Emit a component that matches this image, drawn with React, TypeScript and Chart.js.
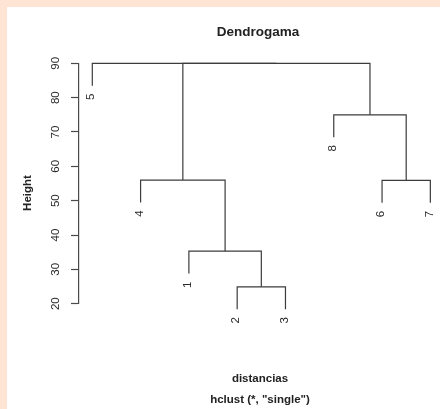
import React, { useEffect, useRef } from "react";
import { Chart, registerables } from "chart.js";

Chart.register(...registerables);

// Dendrogram data (R hclust style)
const leafLabels = ["1", "2", "3", "4", "5", "6", "7", "8"];
const leafOrder = [5, 4, 1, 2, 3, 8, 6, 7];
// merge matrix: negative = leaf id, positive = earlier merge step
const mergeA = [-2, -1, -6, -4, -8, 4, -5];
const mergeB = [-3, 1, -7, 2, 3, 5, 6];
const mergeHeights = [24.9, 35.3, 55.9, 56.0, 75.0, 90.0, 90.0];
const yTicks = [20, 30, 40, 50, 60, 70, 80, 90];

const titleText = "Dendrogama";
const yTitle = "Height";
const xTitle = "distancias";
const subTitle = 'hclust (*, "single")';

const LINE = "#3c3c3c";
const FONT = "'Liberation Sans', Arial, Helvetica, sans-serif";

function buildSegments() {
  const hang =
    0.1 * (Math.max(...mergeHeights) - Math.min(...mergeHeights));
  const leafPos: Record<number, number> = {};
  leafOrder.forEach((id, i) => (leafPos[id] = i + 1));
  const nodePos: number[] = [];
  const segs: { x: number; y: number }[][] = [];
  const leaves: { label: string; x: number; y: number }[] = [];
  const info = (ref: number, h: number) => {
    if (ref < 0) {
      const id = -ref;
      const x = leafPos[id];
      const y = h - hang;
      leaves.push({ label: leafLabels[id - 1], x, y });
      return { x, y };
    }
    return { x: nodePos[ref - 1], y: mergeHeights[ref - 1] };
  };
  mergeHeights.forEach((h, k) => {
    const a = info(mergeA[k], h);
    const b = info(mergeB[k], h);
    segs.push([
      { x: a.x, y: a.y },
      { x: a.x, y: h },
      { x: b.x, y: h },
      { x: b.x, y: b.y },
    ]);
    nodePos[k] = (a.x + b.x) / 2;
  });
  return { segs, leaves };
}

export default function App() {
  const ref = useRef<HTMLCanvasElement | null>(null);
  useEffect(() => {
    if (!ref.current) return;
    const { segs, leaves } = buildSegments();
    const textPlugin = {
      id: "dendroText",
      afterDraw(chart: any) {
        const ctx = chart.ctx;
        const xs = chart.scales.x;
        const ys = chart.scales.y;
        ctx.save();
        ctx.fillStyle = "#222";
        ctx.textAlign = "center";
        ctx.textBaseline = "middle";
        // title
        ctx.font = `bold 13.5px ${FONT}`;
        ctx.fillText(titleText, 251, 25);
        ctx.font = `bold 11.5px ${FONT}`;
        ctx.fillText(xTitle, 253, 372);
        ctx.fillText(subTitle, 253, 393);
        // y title
        ctx.save();
        ctx.translate(21, 186);
        ctx.rotate(-Math.PI / 2);
        ctx.fillText(yTitle, 0, 0);
        ctx.restore();
        // leaf labels
        ctx.font = `11.5px ${FONT}`;
        ctx.fillStyle = "#2a2a2a";
        leaves.forEach((l) => {
          const px = xs.getPixelForValue(l.x);
          const py = ys.getPixelForValue(l.y);
          ctx.save();
          ctx.translate(px - 1, py + 8);
          ctx.rotate(-Math.PI / 2);
          ctx.textAlign = "right";
          ctx.fillText(l.label, 0, 0);
          ctx.restore();
        });
        ctx.restore();
      },
    };
    const chart = new Chart(ref.current, {
      type: "scatter",
      data: {
        datasets: segs.map((s) => ({
          data: s,
          showLine: true,
          borderColor: LINE,
          borderWidth: 1.2,
          pointRadius: 0,
          fill: false,
          clip: false as any,
          tension: 0,
        })),
      },
      options: {
        responsive: false,
        animation: false,
        events: [],
        layout: { padding: { top: 56.3, bottom: 105.3, left: 0, right: 0 } },
        plugins: {
          legend: { display: false },
          tooltip: { enabled: false },
          title: { display: false },
        },
        scales: {
          x: {
            type: "linear",
            min: 0.7246,
            max: 8.2,
            display: false,
          },
          y: {
            type: "linear",
            min: yTicks[0],
            max: yTicks[yTicks.length - 1],
            afterBuildTicks: (scale: any) => {
              scale.ticks = yTicks.map((v) => ({ value: v }));
            },
            afterFit: (scale: any) => {
              scale.width = 72;
            },
            border: { display: true, color: "#4a4a4a", width: 1.2 },
            grid: {
              drawOnChartArea: false,
              drawTicks: true,
              tickLength: 8,
              color: "#4a4a4a",
              tickColor: "#4a4a4a",
              tickWidth: 1.2,
            },
            ticks: {
              minRotation: 90,
              maxRotation: 90,
              crossAlign: "center",
              padding: 9,
              color: "#2a2a2a",
              font: { family: FONT, size: 11.5 },
            },
          },
        },
      },
      plugins: [textPlugin],
    });
    return () => chart.destroy();
  }, []);
  return (
    <div
      style={{
        position: "absolute",
        left: 0,
        top: 0,
        width: 440,
        height: 409,
        background: "#fde4d3",
        overflow: "hidden",
      }}
    >
      <canvas
        ref={ref}
        width={433}
        height={402}
        style={{
          position: "absolute",
          left: 7,
          top: 7,
          width: 433,
          height: 402,
          background: "#ffffff",
        }}
      />
    </div>
  );
}
